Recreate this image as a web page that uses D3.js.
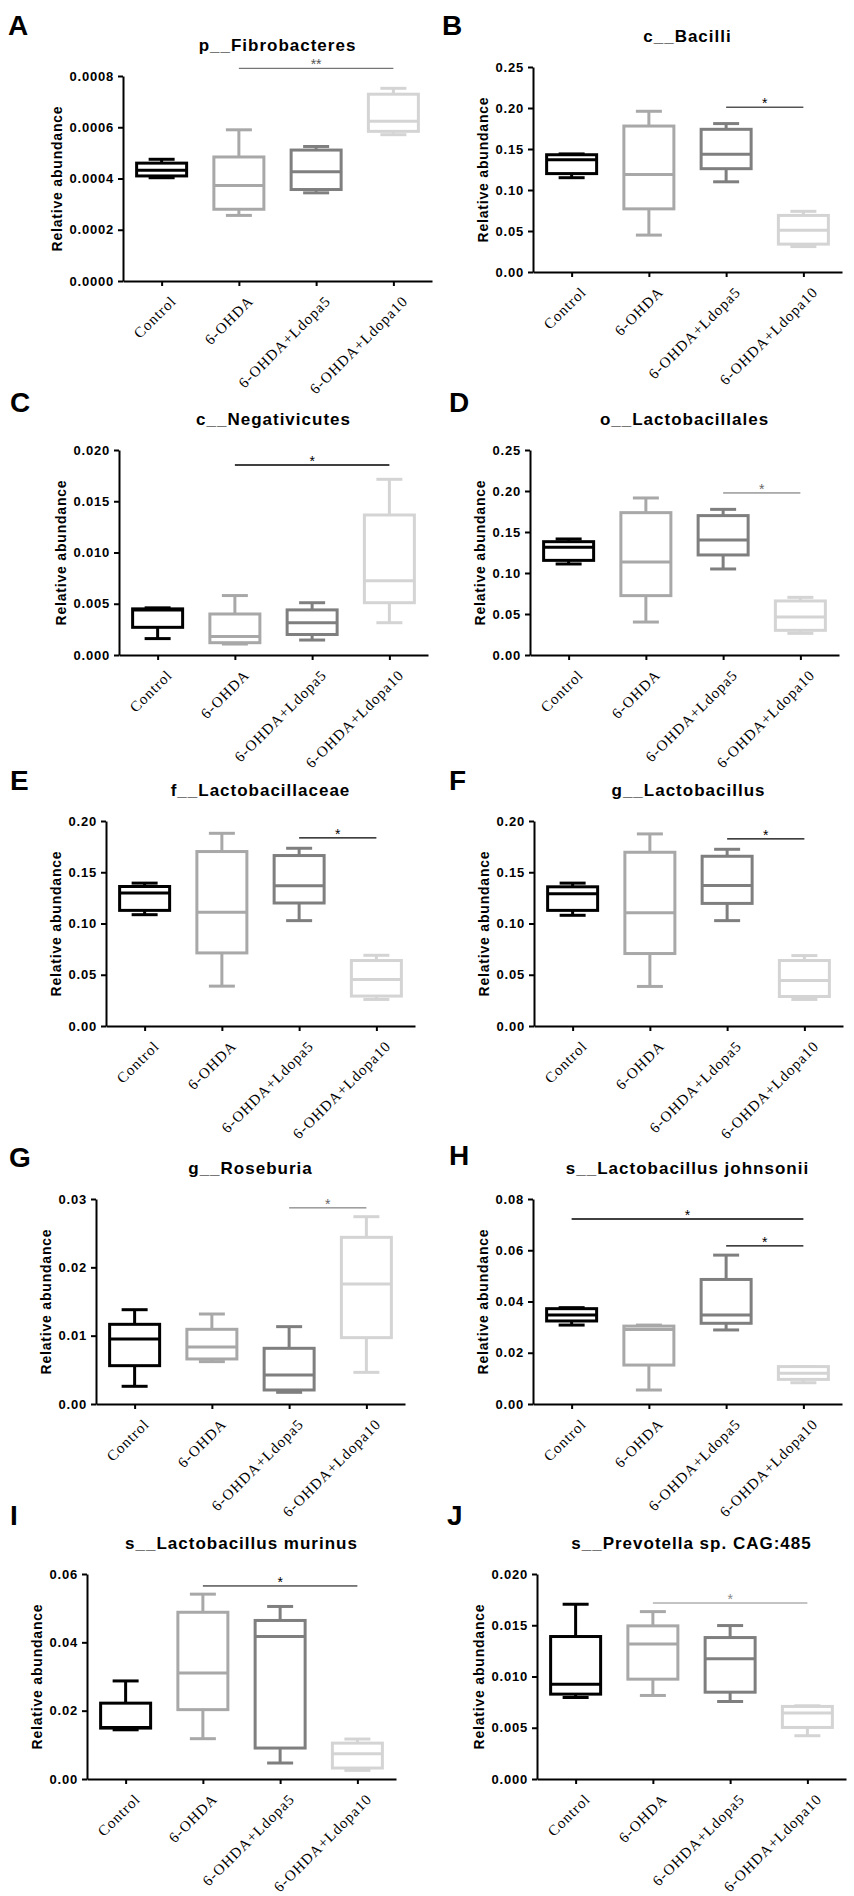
<!DOCTYPE html>
<html>
<head>
<meta charset="utf-8">
<script src="https://cdn.jsdelivr.net/npm/d3@7"></script>
<style>
  body { margin: 0; background: #fff; }
  svg text { font-family: "Liberation Sans", Arial, sans-serif; }
</style>
</head>
<body>
<div id="chart"></div>
<script>
// groups on the x axis
const groups = ["Control", "6-OHDA", "6-OHDA+Ldopa5", "6-OHDA+Ldopa10"];

const panelLetters = ["A", "B", "C", "D", "E", "F", "G", "H", "I", "J"];
const panelTitles = [
  "p__Fibrobacteres", "c__Bacilli", "c__Negativicutes", "o__Lactobacillales",
  "f__Lactobacillaceae", "g__Lactobacillus", "g__Roseburia",
  "s__Lactobacillus johnsonii", "s__Lactobacillus murinus", "s__Prevotella sp. CAG:485"
];

// y ticks and decimals of the tick labels
const yTicks = [
  [0, 0.0002, 0.0004, 0.0006, 0.0008],
  [0, 0.05, 0.10, 0.15, 0.20, 0.25],
  [0, 0.005, 0.010, 0.015, 0.020],
  [0, 0.05, 0.10, 0.15, 0.20, 0.25],
  [0, 0.05, 0.10, 0.15, 0.20],
  [0, 0.05, 0.10, 0.15, 0.20],
  [0, 0.01, 0.02, 0.03],
  [0, 0.02, 0.04, 0.06, 0.08],
  [0, 0.02, 0.04, 0.06],
  [0, 0.005, 0.010, 0.015, 0.020]
];
const yDecimals = [4, 2, 3, 2, 2, 2, 2, 2, 2, 3];

// box stats per group: [min, q1, median, q3, max]
const fibrobacteres = [
  [0.000403, 0.000410, 0.000432, 0.000460, 0.000475],
  [0.000256, 0.000280, 0.000373, 0.000484, 0.000590],
  [0.000344, 0.000357, 0.000426, 0.000511, 0.000525],
  [0.000571, 0.000584, 0.000623, 0.000729, 0.000752]
];
const bacilli = [
  [0.115, 0.120, 0.137, 0.143, 0.144],
  [0.045, 0.077, 0.119, 0.178, 0.196],
  [0.110, 0.126, 0.1435, 0.174, 0.181],
  [0.031, 0.034, 0.051, 0.069, 0.074]
];
const negativicutes = [
  [0.0016, 0.0027, 0.0044, 0.0045, 0.0046],
  [0.00107, 0.0012, 0.0018, 0.0040, 0.0058],
  [0.00146, 0.0020, 0.00315, 0.0044, 0.0051],
  [0.00315, 0.0051, 0.00725, 0.01366, 0.01714]
];
const lactobacillales = [
  [0.111, 0.1154, 0.1313, 0.1382, 0.1415],
  [0.0402, 0.0724, 0.1134, 0.1736, 0.1915],
  [0.1049, 0.122, 0.1402, 0.170, 0.1776],
  [0.0264, 0.0301, 0.0463, 0.0659, 0.0703]
];
const lactobacillaceae = [
  [0.1086, 0.1128, 0.1297, 0.1361, 0.1394],
  [0.0389, 0.0713, 0.1109, 0.1702, 0.188],
  [0.1028, 0.120, 0.1368, 0.1663, 0.1734],
  [0.0259, 0.0292, 0.0454, 0.0639, 0.069]
];
const lactobacillus = [
  [0.108, 0.1128, 0.129, 0.1358, 0.1394],
  [0.0386, 0.0707, 0.1105, 0.1695, 0.1874],
  [0.1028, 0.1196, 0.1371, 0.1656, 0.1724],
  [0.0259, 0.0288, 0.0444, 0.0639, 0.0687]
];
const roseburia = [
  [0.00259, 0.00561, 0.00951, 0.01166, 0.0138],
  [0.0062, 0.00659, 0.00834, 0.01093, 0.01317],
  [0.00171, 0.00205, 0.00424, 0.00815, 0.01132],
  [0.00463, 0.00971, 0.01756, 0.02439, 0.02741]
];
const johnsonii = [
  [0.0308, 0.0324, 0.0347, 0.0372, 0.0376],
  [0.00546, 0.0152, 0.0291, 0.0304, 0.0308],
  [0.0289, 0.0315, 0.0347, 0.0486, 0.0581],
  [0.0083, 0.0096, 0.012, 0.0146, 0.0146]
];
const murinus = [
  [0.0144, 0.0149, 0.0151, 0.0222, 0.0287],
  [0.0118, 0.0203, 0.031, 0.0488, 0.0541],
  [0.00468, 0.00906, 0.0417, 0.0464, 0.0505],
  [0.00253, 0.00321, 0.0074, 0.0105, 0.0117]
];
const prevotella = [
  [0.00795, 0.00828, 0.00925, 0.0139, 0.01705],
  [0.00815, 0.00974, 0.01318, 0.01494, 0.01633],
  [0.00756, 0.00847, 0.01172, 0.0138, 0.01497],
  [0.00422, 0.00503, 0.00643, 0.00708, 0.00714]
];
const panelStats = [fibrobacteres, bacilli, negativicutes, lactobacillales, lactobacillaceae,
  lactobacillus, roseburia, johnsonii, murinus, prevotella];

// significance bars: [from group, to group, height, label]
const sigBars = [
  [[1, 3, 0.00083, "**"]],
  [[2, 3, 0.201, "*"]],
  [[1, 3, 0.01854, "*"]],
  [[2, 3, 0.1976, "*"]],
  [[2, 3, 0.1835, "*"]],
  [[2, 3, 0.1825, "*"]],
  [[2, 3, 0.0287, "*"]],
  [[0, 3, 0.0722, "*"], [2, 3, 0.0617, "*"]],
  [[1, 3, 0.0565, "*"]],
  [[1, 3, 0.01717, "*"]]
];

// layout (pixels) and styling
const groupColors = ["#000000", "#a8a8a8", "#7f7f7f", "#d4d4d4"];
const layout = [
  { x0: 123, top: 76,   lx: 8,   ly: 35,   sig: "#555", sw: 1 },
  { x0: 533, top: 67,   lx: 442, ly: 35,   sig: "#000", sw: 1 },
  { x0: 119, top: 450,  lx: 10,  ly: 412,  sig: "#000", sw: 1.6 },
  { x0: 530, top: 450,  lx: 449, ly: 412,  sig: "#666", sw: 1 },
  { x0: 106, top: 821,  lx: 10,  ly: 790,  sig: "#000", sw: 1.2 },
  { x0: 534, top: 821,  lx: 449, ly: 790,  sig: "#000", sw: 1.2 },
  { x0: 96,  top: 1199, lx: 9,   ly: 1167, sig: "#666", sw: 1 },
  { x0: 533, top: 1199, lx: 449, ly: 1165, sig: "#000", sw: 1.4 },
  { x0: 87,  top: 1574, lx: 10,  ly: 1525, sig: "#000", sw: 1 },
  { x0: 537, top: 1574, lx: 447, ly: 1525, sig: "#888", sw: 1 }
];
const plotW = 309, plotH = 205, boxW = 50, capW = 26;

const svg = d3.select("#chart").append("svg")
  .attr("width", 854)
  .attr("height", 1896);

panelStats.forEach(function(stats, i) {
  var L = layout[i];
  var g = svg.append("g");

  var x = d3.scalePoint().domain(groups).range([L.x0, L.x0 + plotW]).padding(0.5);
  var y = d3.scaleLinear().domain([0, d3.max(yTicks[i])]).range([L.top + plotH, L.top]);

  // letter + title
  g.append("text")
    .attr("x", L.lx).attr("y", L.ly)
    .attr("font-size", 28).attr("font-weight", "bold")
    .text(panelLetters[i]);
  g.append("text")
    .attr("x", L.x0 + plotW / 2).attr("y", L.top - 25)
    .attr("text-anchor", "middle")
    .attr("font-size", 17).attr("font-weight", "bold")
    .attr("letter-spacing", "1px")
    .text(panelTitles[i]);

  // y axis
  var yAxisG = g.append("g")
    .attr("transform", `translate(${L.x0},0)`)
    .call(d3.axisLeft(y)
      .tickValues(yTicks[i])
      .tickFormat(d3.format(`.${yDecimals[i]}f`))
      .tickSize(5).tickSizeOuter(0).tickPadding(4));
  yAxisG.select(".domain").attr("stroke-width", 2);
  yAxisG.selectAll(".tick line").attr("stroke-width", 2);
  yAxisG.selectAll(".tick text")
    .attr("font-size", 13).attr("font-weight", "bold")
    .attr("letter-spacing", "0.8px").attr("fill", "#000");

  var bb = yAxisG.node().getBBox();
  g.append("text")
    .attr("transform", `translate(${L.x0 + bb.x - 7},${L.top + plotH / 2}) rotate(-90)`)
    .attr("text-anchor", "middle")
    .attr("font-size", 14).attr("font-weight", "bold")
    .attr("letter-spacing", "0.8px")
    .text("Relative abundance");

  // x axis, serif labels at 45 degrees
  var xAxisG = g.append("g")
    .attr("transform", `translate(0,${L.top + plotH})`)
    .call(d3.axisBottom(x).tickSize(5).tickSizeOuter(0));
  xAxisG.select(".domain").attr("stroke-width", 2);
  xAxisG.selectAll(".tick line").attr("stroke-width", 2);
  xAxisG.selectAll(".tick text")
    .style("font-family", "'Liberation Serif', 'Times New Roman', serif")
    .attr("font-size", 15).attr("letter-spacing", "1px")
    .attr("fill", "#000")
    .attr("text-anchor", "end")
    .attr("x", 0).attr("y", 0).attr("dy", null)
    .attr("transform", "translate(15,21) rotate(-45)");

  // boxes
  var boxes = g.append("g").selectAll("g")
    .data(stats)
    .join("g")
    .attr("stroke", (d, j) => groupColors[j])
    .attr("stroke-width", 3)
    .attr("fill", "none");

  boxes.each(function(d, j) {
    var b = d3.select(this), cx = x(groups[j]);
    b.append("line").attr("x1", cx).attr("x2", cx).attr("y1", y(d[3])).attr("y2", y(d[4]));
    b.append("line").attr("x1", cx).attr("x2", cx).attr("y1", y(d[1])).attr("y2", y(d[0]));
    b.append("line").attr("x1", cx - capW / 2).attr("x2", cx + capW / 2).attr("y1", y(d[4])).attr("y2", y(d[4]));
    b.append("line").attr("x1", cx - capW / 2).attr("x2", cx + capW / 2).attr("y1", y(d[0])).attr("y2", y(d[0]));
    b.append("rect")
      .attr("x", cx - boxW / 2).attr("width", boxW)
      .attr("y", y(d[3])).attr("height", y(d[1]) - y(d[3]))
      .attr("fill", "#fff");
    b.append("line").attr("x1", cx - boxW / 2).attr("x2", cx + boxW / 2).attr("y1", y(d[2])).attr("y2", y(d[2]));
  });

  // significance
  sigBars[i].forEach(function(s) {
    var x1 = x(groups[s[0]]), x2 = x(groups[s[1]]), yy = y(s[2]);
    g.append("line")
      .attr("x1", x1).attr("x2", x2).attr("y1", yy).attr("y2", yy)
      .attr("stroke", L.sig).attr("stroke-width", L.sw);
    g.append("text")
      .attr("x", (x1 + x2) / 2).attr("y", yy + 1)
      .attr("text-anchor", "middle")
      .attr("font-size", 14)
      .attr("fill", L.sig)
      .text(s[3]);
  });
});
</script>
</body>
</html>
